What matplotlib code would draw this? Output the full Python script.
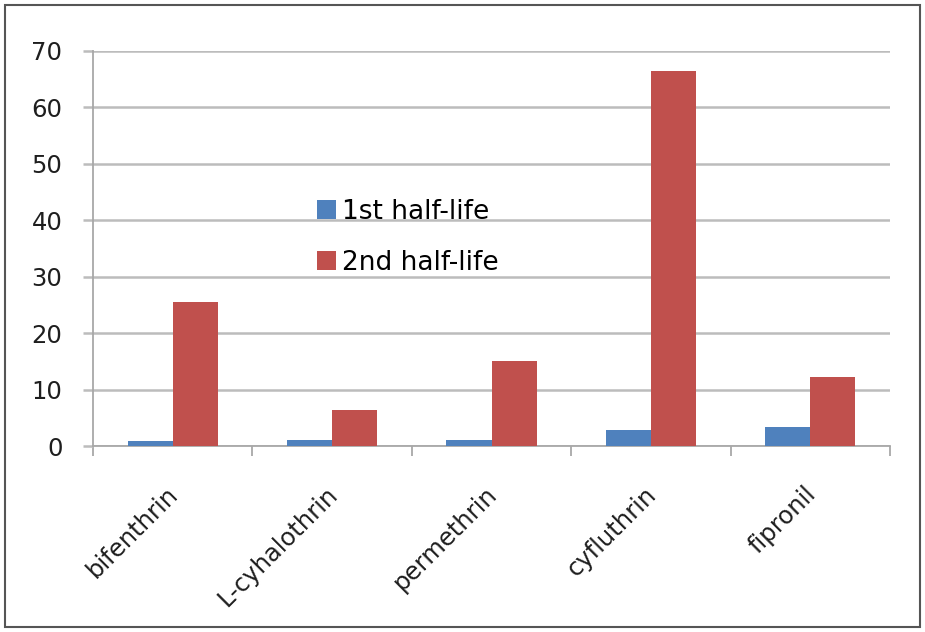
import matplotlib
matplotlib.use("Agg")
import matplotlib.pyplot as plt
import matplotlib.transforms as mtransforms
import numpy as np
from matplotlib.patches import Rectangle

compounds = ["bifenthrin", "L-cyhalothrin", "permethrin", "cyfluthrin", "fipronil"]
first_half_life = [0.8, 1.1, 1.1, 2.9, 3.4]
second_half_life = [25.5, 6.3, 15.1, 66.5, 12.2]
series_names = ["1st half-life", "2nd half-life"]
y_ticks = [0, 10, 20, 30, 40, 50, 60, 70]

plt.rcParams["font.family"] = ["DejaVu Sans"]

fig = plt.figure(figsize=(9.25, 6.32), dpi=100)
ax = fig.add_axes([93 / 925, 1 - 446 / 632, (890 - 93) / 925, (446 - 51) / 632])

x = np.arange(len(compounds))
w = 0.283
ax.bar(x - w / 2, first_half_life, w, color="#4F81BD", label=series_names[0], zorder=3)
ax.bar(x + w / 2, second_half_life, w, color="#C0504D", label=series_names[1], zorder=3)

ax.set_xlim(-0.5, len(compounds) - 0.5)
ax.set_ylim(0, 70)
ax.set_yticks(y_ticks)
ax.yaxis.grid(True, color="#bcbcbc", linewidth=1.8, zorder=0)
ax.set_axisbelow(True)

for s in ["top", "right"]:
    ax.spines[s].set_visible(False)
for s in ["left", "bottom"]:
    ax.spines[s].set_color("#a8a8a8")
    ax.spines[s].set_linewidth(1.3)

ax.tick_params(axis="y", length=7, width=1.8, color="#bcbcbc", pad=15,
               labelsize=17.5, labelcolor="#1e1e1e")
ax.set_xticks(np.arange(len(compounds) + 1) - 0.5, minor=True)
ax.set_xticks(x)
ax.tick_params(axis="x", which="major", length=0, pad=26)
ax.tick_params(axis="x", which="minor", length=7, width=1.3, color="#a8a8a8")
ax.set_xticklabels(compounds, rotation=45, ha="right", va="top",
                   rotation_mode="anchor", fontsize=17.5, color="#1e1e1e")
shift = mtransforms.ScaledTranslation(-7 / 100, 0, fig.dpi_scale_trans)
for lbl in ax.get_xticklabels():
    lbl.set_transform(lbl.get_transform() + shift)

ax.legend(loc="upper left", bbox_to_anchor=((306 - 93) / 797, (446 - 188) / 395),
          frameon=False, fontsize=19, handlelength=0.75, handleheight=0.75,
          handletextpad=0.2, labelspacing=0.95, borderaxespad=0)

# outer frame around the whole figure
fig.patches.append(Rectangle((5 / 925, 5 / 632), 915 / 925, 622 / 632,
                             transform=fig.transFigure, fill=False,
                             edgecolor="#555555", linewidth=1.5))

fig.savefig("out.png", dpi=100)
